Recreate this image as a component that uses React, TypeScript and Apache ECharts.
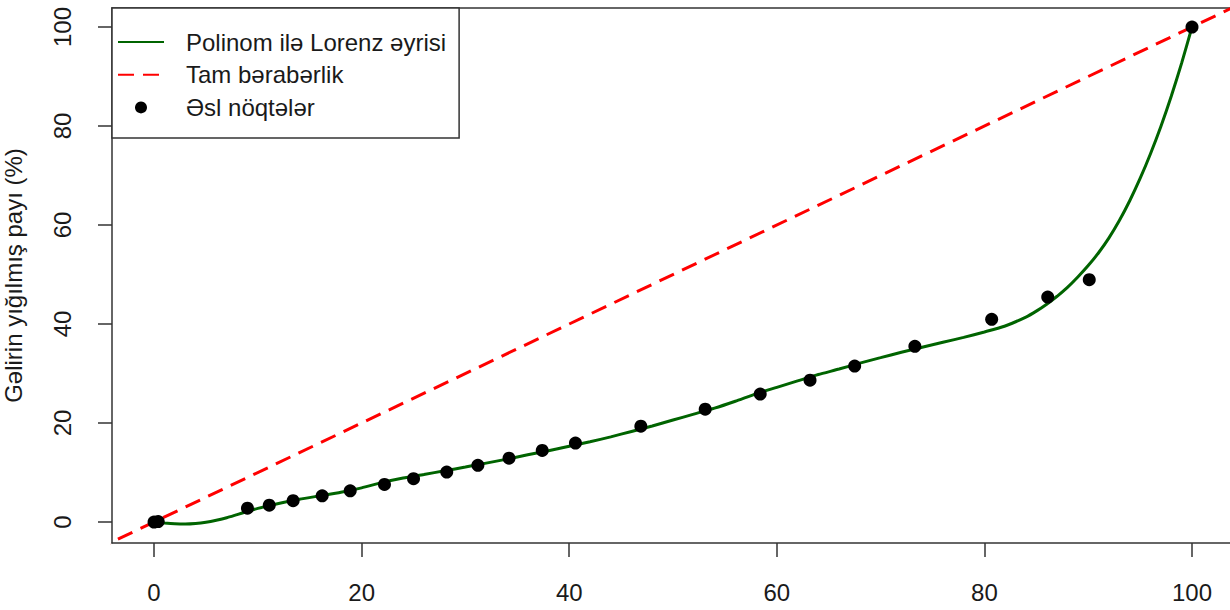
import React, { useEffect, useRef } from "react";
import * as echarts from "echarts";

// Tick labels
const xTicks = [0, 20, 40, 60, 80, 100];
const yTicks = [0, 20, 40, 60, 80, 100];

// Observed points (cumulative population %, cumulative income %)
const pointX = [0, 0.4, 9.0, 11.1, 13.4, 16.2, 18.9, 22.2, 25.0, 28.2, 31.2, 34.2, 37.4, 40.6, 46.9, 53.1, 58.4, 63.2, 67.5, 73.3, 80.7, 86.1, 90.1, 100];
const pointY = [0, 0.1, 2.8, 3.4, 4.3, 5.3, 6.3, 7.6, 8.75, 10.1, 11.45, 12.9, 14.45, 15.95, 19.35, 22.8, 25.85, 28.65, 31.5, 35.5, 40.95, 45.45, 48.95, 100];

// Fitted polynomial Lorenz curve
const curveX = [0, 1, 2, 3, 4, 5, 6, 7, 8, 9, 10, 12, 14, 16, 18, 20, 22, 24, 26, 28, 30, 32, 34, 36, 38, 40, 42, 44, 46, 48, 50, 52, 54, 56, 58, 60, 62, 64, 66, 68, 70, 72, 74, 76, 78, 80, 82, 84, 85, 86, 87, 88, 89, 90, 91, 92, 93, 94, 95, 96, 97, 98, 99, 100];
const curveY = [0, -0.2, -0.35, -0.4, -0.3, -0.05, 0.35, 0.85, 1.5, 2.15, 2.75, 3.75, 4.6, 5.3, 6.0, 6.9, 8.0, 8.9, 9.6, 10.35, 11.1, 11.9, 12.7, 13.6, 14.4, 15.3, 16.2, 17.2, 18.3, 19.4, 20.6, 21.8, 23.0, 24.4, 25.9, 27.2, 28.5, 29.8, 30.9, 32.1, 33.2, 34.3, 35.3, 36.3, 37.3, 38.4, 39.6, 41.4, 42.6, 44.0, 45.6, 47.4, 49.5, 51.8, 54.4, 57.4, 60.9, 64.9, 69.4, 74.4, 79.9, 86.0, 92.7, 100];

// Perfect equality line
const equalityX = [-10, 110];
const equalityY = [-10, 110];

const seriesNames = ["Polinom ilə Lorenz əyrisi", "Tam bərabərlik", "Əsl nöqtələr"];
const yAxisTitle = "Gəlirin yığılmış payı (%)";

const FONT = "'Liberation Sans', Arial, Helvetica, sans-serif";
const TEXT = "#1a1a1a";
const LINE = "#333";

export default function App() {
  const ref = useRef<HTMLDivElement>(null);
  useEffect(() => {
    if (!ref.current) return;
    const chart = echarts.init(ref.current, undefined, { renderer: "svg" });
    chart.setOption({
      animation: false,
      backgroundColor: "#fff",
      textStyle: { fontFamily: FONT },
      grid: { left: 112, right: 0, top: 8, bottom: 67, containLabel: false, outerBoundsMode: "none" },
      legend: {
        orient: "vertical",
        left: 112,
        top: 8,
        padding: [22, 13, 18.7, 5],
        itemGap: 8.7,
        itemWidth: 46,
        itemHeight: 12,
        backgroundColor: "#fff",
        borderColor: LINE,
        borderWidth: 1.5,
        borderRadius: 0,
        textStyle: { fontSize: 24, color: TEXT, fontFamily: FONT, padding: [0, 0, 0, 17] },
        data: [
          { name: seriesNames[0], itemStyle: { opacity: 0 } },
          { name: seriesNames[1], itemStyle: { opacity: 0 } },
          { name: seriesNames[2] },
        ],
      },
      xAxis: [
        {
          type: "value",
          min: -4.05,
          max: 103.66,
          position: "bottom",
          splitLine: { show: false },
          axisLine: { show: true, onZero: false, lineStyle: { color: LINE, width: 1.5 } },
          axisTick: { show: true, customValues: xTicks, length: 14, lineStyle: { color: LINE, width: 1.5 } },
          axisLabel: { show: true, customValues: xTicks, fontSize: 24, color: TEXT, fontFamily: FONT, margin: 37 },
        },
        {
          type: "value",
          min: -4.05,
          max: 103.66,
          position: "top",
          splitLine: { show: false },
          axisLine: { show: true, onZero: false, lineStyle: { color: LINE, width: 1.5 } },
          axisTick: { show: false },
          axisLabel: { show: false },
        },
      ],
      yAxis: {
        type: "value",
        min: -4.24,
        max: 103.84,
        name: yAxisTitle,
        nameLocation: "middle",
        nameRotate: 90,
        nameGap: 87,
        nameTextStyle: { fontSize: 24, color: TEXT, fontFamily: FONT },
        splitLine: { show: false },
        axisLine: { show: true, onZero: false, lineStyle: { color: LINE, width: 1.5 } },
        axisTick: { show: true, customValues: yTicks, length: 14, lineStyle: { color: LINE, width: 1.5 } },
        axisLabel: { show: true, customValues: yTicks, rotate: 90, fontSize: 24, color: TEXT, fontFamily: FONT, margin: 38 },
      },
      series: [
        {
          name: seriesNames[1],
          type: "line",
          xAxisIndex: 0,
          data: equalityX.map((x, i) => [x, equalityY[i]]),
          symbol: "none",
          clip: true,
          lineStyle: { color: "#ff0000", width: 3, type: [16, 9] },
          itemStyle: { color: "#ff0000" },
          z: 2,
        },
        {
          name: seriesNames[0],
          type: "line",
          xAxisIndex: 0,
          data: curveX.map((x, i) => [x, curveY[i]]),
          symbol: "none",
          smooth: 0.2,
          clip: true,
          lineStyle: { color: "#006400", width: 3 },
          itemStyle: { color: "#006400" },
          z: 3,
        },
        {
          name: seriesNames[2],
          type: "scatter",
          xAxisIndex: 0,
          data: pointX.map((x, i) => [x, pointY[i]]),
          symbol: "circle",
          symbolSize: 13,
          itemStyle: { color: "#000", opacity: 1 },
          z: 4,
        },
      ],
    });
    return () => chart.dispose();
  }, []);
  return (
    <div
      ref={ref}
      style={{ position: "absolute", left: 0, top: 0, width: 1230, height: 610 }}
    />
  );
}
